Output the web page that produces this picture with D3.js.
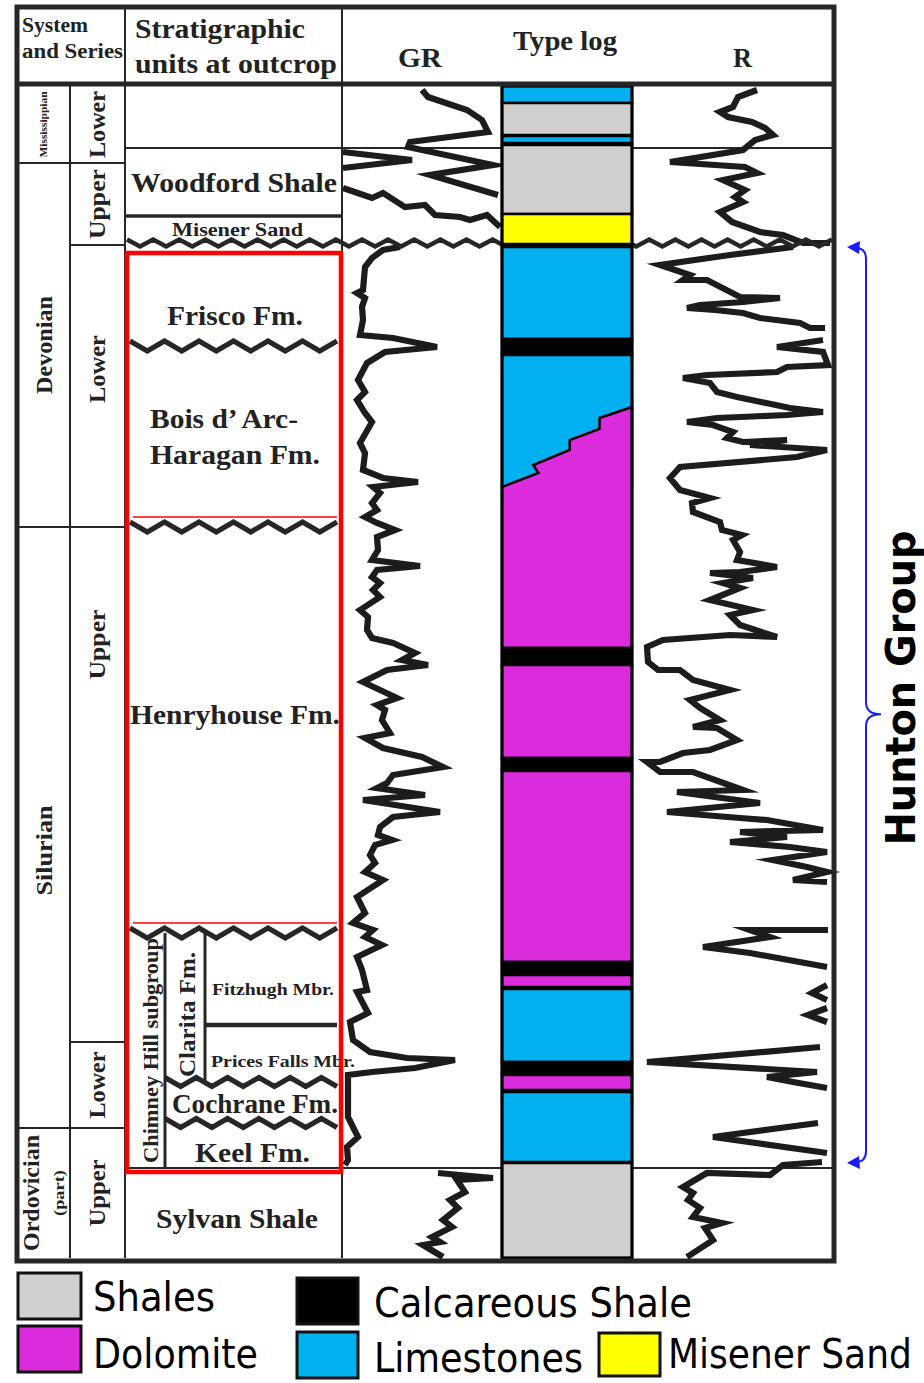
<!DOCTYPE html>
<html>
<head>
<meta charset="utf-8">
<script src="https://cdn.jsdelivr.net/npm/d3@7"></script>
<style>
  body { margin: 0; background: #fff; }
  svg { display: block; }
</style>
</head>
<body>
<script>
// ---- data (depth in column units from top of log, log values in track units) ----
const systems = [
  { name: "Mississippian", top: 0, base: 77 },
  { name: "Devonian", top: 77, base: 441 },
  { name: "Silurian", top: 441, base: 1042 },
  { name: "Ordovician", top: 1042, base: 1172 }
];

const series = [
  { name: "Lower", top: 0, base: 77 },
  { name: "Upper", top: 77, base: 159 },
  { name: "Lower", top: 159, base: 441 },
  { name: "Upper", top: 441, base: 956 },
  { name: "Lower", top: 956, base: 1042 },
  { name: "Upper", top: 1042, base: 1172 }
];

const units = [
  { name: "", top: 0, base: 62 },
  { name: "Woodford Shale", top: 62, base: 130 },
  { name: "Misener Sand", top: 130, base: 157 },
  { name: "Frisco Fm.", top: 157, base: 260 },
  { name: "Bois d\u2019 Arc-Haragan Fm.", top: 260, base: 441 },
  { name: "Henryhouse Fm.", top: 441, base: 847 },
  { name: "Fitzhugh Mbr.", top: 847, base: 939 },
  { name: "Prices Falls Mbr.", top: 939, base: 996 },
  { name: "Cochrane Fm.", top: 996, base: 1037 },
  { name: "Keel Fm.", top: 1037, base: 1082 },
  { name: "Sylvan Shale", top: 1082, base: 1172 }
];

const hunton = { name: "Hunton Group", top: 157, base: 1082 };

const lithology = [
  { type: "limestone", top: 0, base: 17 },
  { type: "shale", top: 17, base: 49 },
  { type: "limestone", top: 50, base: 57 },
  { type: "shale", top: 59, base: 128 },
  { type: "sand", top: 128, base: 158 },
  { type: "limestone", top: 161, base: 253 },
  { type: "calcShale", top: 253, base: 269 },
  { type: "limestone", top: 269, base: 401 },
  { type: "dolomite", top: 321, base: 562 },
  { type: "calcShale", top: 562, base: 579 },
  { type: "dolomite", top: 579, base: 672 },
  { type: "calcShale", top: 672, base: 685 },
  { type: "dolomite", top: 685, base: 876 },
  { type: "calcShale", top: 876, base: 889 },
  { type: "dolomite", top: 889, base: 901 },
  { type: "limestone", top: 903, base: 976 },
  { type: "calcShale", top: 976, base: 989 },
  { type: "dolomite", top: 989, base: 1004 },
  { type: "limestone", top: 1006, base: 1076 },
  { type: "shale", top: 1077, base: 1172 }
];

// stepped limestone/dolomite contact: [depth, fraction of column width]
const dolomiteFront = [[321, 1], [332, 0.75], [343, 0.75], [354, 0.52], [364, 0.52], [379, 0.24], [387, 0.28], [401, 0]];

// GR log pieces: [depth, value]
const grLog = [
  [[4, 80], [11, 86], [24, 125], [34, 140], [46, 146], [56, 68], [61, 66], [79, 151], [89, 88], [109, 156]],
  [[66, 1], [74, 70], [82, 1]],
  [[102, 1], [112, 30], [107, 41], [121, 63], [119, 83], [129, 93], [131, 118], [134, 128], [129, 145], [141, 158]],
  [[161, 58], [164, 41], [172, 30], [181, 23], [204, 21], [207, 15], [212, 23], [221, 20], [234, 21], [249, 18],
   [252, 51], [261, 95], [266, 43], [277, 25], [294, 16], [306, 23], [314, 15], [327, 23], [336, 30], [357, 18],
   [367, 23], [384, 21], [392, 41], [396, 76], [401, 31], [407, 38], [417, 30], [424, 35], [431, 23], [437, 35],
   [444, 53], [451, 35], [464, 36], [474, 30], [480, 78], [484, 35], [491, 30], [497, 38], [504, 31], [511, 38],
   [524, 18], [531, 26], [544, 25], [552, 30], [557, 51], [567, 73], [574, 60], [579, 86], [584, 45], [596, 21],
   [612, 55], [619, 35], [624, 43], [634, 40], [647, 48], [652, 23], [662, 41], [671, 80], [681, 101], [689, 51],
   [697, 45], [702, 35], [709, 83], [714, 21], [726, 98], [731, 51], [741, 38], [749, 36], [754, 50], [759, 33],
   [769, 28], [777, 33], [786, 23], [794, 41], [811, 15], [827, 23], [837, 11], [844, 31], [851, 23], [859, 40],
   [871, 15], [884, 20], [904, 25], [906, 15], [927, 26], [936, 8], [954, 11], [966, 28], [972, 65], [974, 113],
   [982, 73], [986, 30], [989, 6], [1031, 6], [1051, 16], [1061, 5], [1074, 6], [1079, 3]],
  [[1087, 96], [1092, 151], [1094, 115], [1106, 123], [1114, 108], [1122, 116], [1134, 101], [1141, 110],
   [1151, 90], [1156, 98], [1159, 81], [1171, 101]]
];

// R log pieces: [depth, value]
const rLog = [
  [[4, 125], [11, 106], [21, 101], [26, 88], [31, 96], [36, 120], [42, 133], [49, 141], [54, 123], [64, 111],
   [76, 38], [81, 113], [87, 125], [94, 91], [104, 113], [111, 103], [116, 111], [126, 88], [136, 100], [146, 128],
   [149, 151], [157, 171], [157, 198]],
  [[161, 161], [169, 98], [179, 28], [189, 58], [194, 51], [194, 75], [211, 108], [212, 148], [216, 111], [219, 68],
   [222, 55], [224, 83], [227, 111], [232, 128], [237, 168], [242, 178], [242, 193]],
  [[254, 191], [261, 145], [266, 191], [279, 196], [281, 155], [286, 145], [289, 75], [292, 51], [297, 78], [306, 85],
   [311, 105], [322, 158], [326, 191], [329, 155], [332, 85], [336, 55], [339, 81], [346, 101], [352, 95], [356, 111],
   [354, 155], [359, 118], [362, 165], [364, 195], [371, 165], [381, 48], [392, 38], [404, 48], [412, 78], [417, 60],
   [426, 61], [436, 88], [444, 90], [449, 110], [454, 101], [466, 108], [474, 105], [481, 145], [486, 108], [487, 78],
   [492, 121], [497, 91], [502, 108], [514, 78], [524, 121], [529, 98], [539, 108], [551, 145], [549, 98], [554, 31],
   [561, 15], [576, 16], [584, 26], [584, 48], [594, 61], [604, 98], [614, 58], [622, 68], [634, 88], [641, 61],
   [642, 85], [654, 105], [664, 78], [667, 51], [676, 28], [676, 15], [686, 28], [686, 61], [704, 111], [706, 45],
   [717, 128], [726, 35], [732, 108], [734, 135], [744, 191], [746, 108], [751, 155], [756, 98], [761, 158], [766, 195],
   [774, 141], [781, 175], [786, 195], [794, 161], [796, 195]],
  [[844, 196], [844, 118], [851, 138], [861, 71], [867, 118], [881, 195]],
  [[899, 195], [907, 180], [914, 195]],
  [[922, 195], [929, 176], [936, 195]],
  [[961, 188], [976, 15], [986, 185], [991, 135], [996, 161], [1002, 195]],
  [[1037, 186], [1051, 81], [1067, 195]],
  [[1076, 190], [1079, 151], [1089, 138], [1087, 75], [1101, 51], [1107, 61], [1114, 56], [1122, 68], [1131, 61],
   [1137, 90], [1142, 73], [1154, 81], [1171, 55]]
];

const legendItems = [
  { label: "Shales", type: "shale" },
  { label: "Dolomite", type: "dolomite" },
  { label: "Calcareous Shale", type: "calcShale" },
  { label: "Limestones", type: "limestone" },
  { label: "Misener Sand", type: "sand" }
];

// ---- drawing ----
const colors = { shale: "#d0cece", dolomite: "#dc2bdc", limestone: "#00b0f0", sand: "#ffff00", calcShale: "#000000" };
const ink = "#262626";

const svg = d3.select("body").append("svg")
  .attr("width", 924)
  .attr("height", 1383);

svg.append("rect").attr("width", 924).attr("height", 1383).attr("fill", "#fff");

// scales
const y = d3.scaleLinear().domain([0, 1172]).range([86, 1258]);
const xGR = d3.scaleLinear().domain([0, 160]).range([342, 502]);
const xR = d3.scaleLinear().domain([0, 200]).range([632, 832]);
const xLith = d3.scaleLinear().domain([0, 1]).range([502, 632]);

function hline(x0, x1, yy, w) {
  svg.append("line").attr("x1", x0).attr("x2", x1).attr("y1", yy).attr("y2", yy)
    .attr("stroke", ink).attr("stroke-width", w || 2);
}
function vline(xx, y0, y1, w) {
  svg.append("line").attr("x1", xx).attr("x2", xx).attr("y1", y0).attr("y2", y1)
    .attr("stroke", ink).attr("stroke-width", w || 2);
}
function zig(x0, x1, yc, amp, wl) {
  const n = Math.max(2, Math.round((x1 - x0) / (wl / 2)));
  return d3.range(n + 1).map(i => [x0 + i * (x1 - x0) / n, yc + (i % 2 ? amp : -amp)]);
}
const plain = d3.line();
function wavy(x0, x1, yy, amp, wl, w) {
  svg.append("path").attr("d", plain(zig(x0, x1, yy, amp, wl)))
    .attr("fill", "none").attr("stroke", ink).attr("stroke-width", w).attr("stroke-linejoin", "miter");
}

// column grid
vline(70, 86, 1258);
vline(125, 7, 1258);
vline(342, 7, 1258);
systems.slice(0, -1).forEach(s => hline(17, 70, y(s.base)));
series.slice(0, -1).forEach(s => hline(70, 125, y(s.base)));

const u = name => units.find(d => d.name === name);
hline(125, 835, y(u("").base));                 // Mississippian / Woodford
hline(125, 342, y(u("Woodford Shale").base), 3.5);
hline(125, 835, y(u("Keel Fm.").base));          // base of Hunton
hline(205, 337, y(u("Fitzhugh Mbr.").base), 4.5);
vline(165, y(u("Fitzhugh Mbr.").top), y(u("Keel Fm.").base), 3);
vline(205, y(u("Fitzhugh Mbr.").top), y(u("Prices Falls Mbr.").base), 3);

// logs
const grLine = d3.line().x(d => xGR(d[1])).y(d => y(d[0]));
const rLine = d3.line().x(d => xR(d[1])).y(d => y(d[0]));
svg.append("g").selectAll("path").data(grLog).join("path")
  .attr("d", grLine).attr("fill", "none").attr("stroke", "#1c1c1c")
  .attr("stroke-width", 6.2).attr("stroke-linejoin", "miter").attr("stroke-miterlimit", 6);
svg.append("g").selectAll("path").data(rLog).join("path")
  .attr("d", rLine).attr("fill", "none").attr("stroke", "#1c1c1c")
  .attr("stroke-width", 6.2).attr("stroke-linejoin", "miter").attr("stroke-miterlimit", 6);

// unconformities
wavy(127, 832, y(u("Misener Sand").base), 3.5, 26, 4.5);
wavy(130, 337, y(u("Frisco Fm.").base), 5, 34, 5);
wavy(130, 337, y(u("Bois d\u2019 Arc-Haragan Fm.").base), 5, 34, 5);
wavy(130, 337, y(u("Henryhouse Fm.").base), 5, 34, 5);
wavy(165, 337, y(u("Prices Falls Mbr.").base), 4.5, 30, 5);
wavy(165, 337, y(u("Cochrane Fm.").base), 4.5, 30, 5);

// type log
svg.append("rect").attr("x", xLith(0)).attr("y", y(0)).attr("width", xLith(1) - xLith(0))
  .attr("height", y(1172) - y(0)).attr("fill", "#000");
const lith = svg.append("g").attr("stroke", "#000").attr("stroke-width", 2.5);
lithology.forEach(l => {
  if (l.top === dolomiteFront[0][0]) {
    const pts = dolomiteFront.map(p => [xLith(p[1]), y(p[0])])
      .concat([[xLith(0), y(l.base)], [xLith(1), y(l.base)]]);
    lith.append("path").attr("d", d3.line()(pts) + "Z").attr("fill", colors[l.type]);
  } else {
    lith.append("rect").attr("x", xLith(0)).attr("y", y(l.top))
      .attr("width", xLith(1) - xLith(0)).attr("height", y(l.base) - y(l.top))
      .attr("fill", colors[l.type]);
  }
});
svg.append("rect").attr("x", xLith(0)).attr("y", y(0)).attr("width", xLith(1) - xLith(0))
  .attr("height", y(1172) - y(0)).attr("fill", "none").attr("stroke", "#000").attr("stroke-width", 3);

// text helpers
const serif = "'Liberation Serif', 'Times New Roman', serif";
function txt(t, x, yy, size, len, anchor) {
  const el = svg.append("text").attr("x", x).attr("y", yy)
    .attr("font-family", serif).attr("font-weight", "bold").attr("font-size", size)
    .attr("fill", "#222").attr("text-anchor", anchor || "start").text(t);
  if (len) el.attr("textLength", len).attr("lengthAdjust", "spacingAndGlyphs");
  return el;
}
function vtxt(t, bx, cy, size, len) {
  svg.append("text").attr("transform", `translate(${bx},${cy}) rotate(-90)`)
    .attr("font-family", serif).attr("font-weight", "bold").attr("font-size", size)
    .attr("fill", "#222").attr("text-anchor", "middle")
    .attr("textLength", len).attr("lengthAdjust", "spacingAndGlyphs").text(t);
}

// header
txt("System", 22, 32, 22, 66);
txt("and Series", 22, 58, 22, 101);
txt("Stratigraphic", 135, 38, 28, 170);
txt("units at outcrop", 135, 73, 28, 202);
txt("GR", 398, 67, 28, 44);
txt("Type log", 513, 50, 28, 104);
txt("R", 733, 67, 28, 19);

// system & series labels
const sysLayout = { Mississippian: [47, 0, 10, 66], Devonian: [52, 0, 24, 98], Silurian: [52, 23, 24, 90], Ordovician: [39, 0, 24, 116] };
systems.forEach(s => {
  const L = sysLayout[s.name];
  vtxt(s.name, L[0], (y(s.top) + y(s.base)) / 2 + L[1], L[2], L[3]);
});
vtxt("(part)", 64, (y(1042) + y(1172)) / 2, 15, 46);
const serShift = [0, 0, -17, -140, 0, 0];
const serLen = [67, 70, 68, 70, 67, 67];
series.forEach((s, i) => vtxt(s.name, 105, (y(s.top) + y(s.base)) / 2 + serShift[i], 24, serLen[i]));

// strat unit labels
txt("Woodford Shale", 131, 192, 27, 206);
txt("Misener Sand", 172, 236, 19, 131);
txt("Frisco Fm.", 167, 325, 27, 136);
txt("Bois d\u2019 Arc-", 150, 428, 27, 148);
txt("Haragan Fm.", 150, 464, 27, 170);
txt("Henryhouse Fm.", 130, 724, 27, 210);
txt("Fitzhugh Mbr.", 212, 995, 17, 122);
txt("Prices Falls Mbr.", 211, 1067, 17, 144);
txt("Cochrane Fm.", 172, 1113, 27, 166);
txt("Keel Fm.", 195, 1162, 27, 115);
txt("Sylvan Shale", 156, 1228, 27, 162);
vtxt("Chimney Hill subgroup", 158, (y(847) + y(1082)) / 2, 20, 225);
vtxt("Clarita Fm.", 195, (y(847) + y(996)) / 2 + 7, 24, 125);

// red outline of Hunton interval
svg.append("rect").attr("x", 127).attr("y", 253).attr("width", 214).attr("height", 919)
  .attr("fill", "none").attr("stroke", "#ff0000").attr("stroke-width", 4.5);
[u("Bois d\u2019 Arc-Haragan Fm.").base, u("Henryhouse Fm.").base].forEach(d => {
  svg.append("line").attr("x1", 133).attr("x2", 337).attr("y1", y(d) - 10).attr("y2", y(d) - 10)
    .attr("stroke", "#ff0000").attr("stroke-width", 1.6);
});

// frame
svg.append("rect").attr("x", 17).attr("y", 7).attr("width", 817).attr("height", 1254)
  .attr("fill", "none").attr("stroke", ink).attr("stroke-width", 5);
hline(17, 835, 84, 5);

// Hunton Group brace
const bTop = y(hunton.top) + 5, bBot = y(hunton.base) - 6;
const bMid = bTop + (bBot - bTop) * 0.51;
const bp = d3.path();
bp.moveTo(856, bTop);
bp.quadraticCurveTo(866, bTop, 866, bTop + 11);
bp.lineTo(866, bMid - 12);
bp.quadraticCurveTo(866, bMid, 881, bMid);
bp.quadraticCurveTo(866, bMid, 866, bMid + 12);
bp.lineTo(866, bBot - 11);
bp.quadraticCurveTo(866, bBot, 856, bBot);
svg.append("path").attr("d", bp.toString()).attr("fill", "none")
  .attr("stroke", "#1a1aff").attr("stroke-width", 2);
svg.append("path").attr("d", d3.line()([[847, bTop - 1], [860, bTop - 7], [859, bTop + 6]]) + "Z").attr("fill", "#1a1aff");
svg.append("path").attr("d", d3.line()([[847, bBot + 1], [859, bBot - 6], [860, bBot + 7]]) + "Z").attr("fill", "#1a1aff");
svg.append("text").attr("transform", `translate(915,${(bTop + bBot) / 2 - 17}) rotate(-90)`)
  .attr("font-family", "'DejaVu Sans', Verdana, sans-serif").attr("font-weight", "bold")
  .attr("font-size", 40).attr("text-anchor", "middle")
  .attr("textLength", 315).attr("lengthAdjust", "spacingAndGlyphs")
  .attr("fill", "#000").text(hunton.name);

// legend (text squeezed horizontally to the reference widths)
const legendLayout = [
  { box: [18, 1273, 63, 46], tx: 93, ty: 1311, len: 122 },
  { box: [18, 1326, 63, 46], tx: 93, ty: 1368, len: 165 },
  { box: [297, 1278, 61, 46], tx: 374, ty: 1317, len: 318 },
  { box: [297, 1332, 61, 46], tx: 374, ty: 1372, len: 209 },
  { box: [599, 1333, 61, 43], tx: 668, ty: 1368, len: 244 }
];
legendItems.forEach((it, i) => {
  const L = legendLayout[i];
  svg.append("rect").attr("x", L.box[0]).attr("y", L.box[1]).attr("width", L.box[2]).attr("height", L.box[3])
    .attr("fill", colors[it.type]).attr("stroke", "#111").attr("stroke-width", 3);
  const t = svg.append("text").attr("x", 0).attr("y", 0)
    .attr("font-family", "'DejaVu Sans', Tahoma, sans-serif").attr("font-size", 40)
    .attr("fill", "#000").text(it.label);
  const natural = t.node().getComputedTextLength();
  t.attr("transform", `translate(${L.tx},${L.ty}) scale(${L.len / natural},1)`);
});
</script>
</body>
</html>
